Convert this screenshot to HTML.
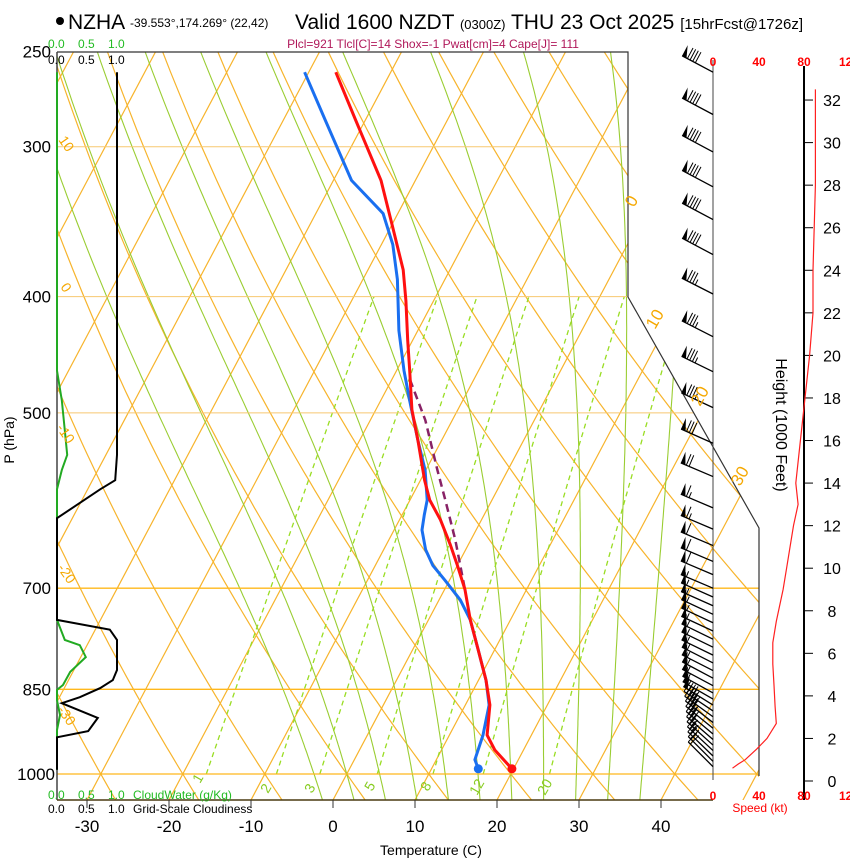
<!DOCTYPE html>
<html><head><meta charset="utf-8"><style>
html,body{margin:0;padding:0;background:#fff;}
svg{display:block;font-family:"Liberation Sans",sans-serif;}
</style></head><body>
<svg id="chart" width="850" height="860" viewBox="0 0 850 860" xmlns="http://www.w3.org/2000/svg">
<defs><clipPath id="plotclip"><polygon points="57,52 628,52 628,297 759,528 759,800 57,800"/></clipPath></defs>
<g id="bg" clip-path="url(#plotclip)"></g>
<g id="fg"></g>
<!-- header -->
<circle cx="60" cy="21" r="4" fill="#000"/>
<text x="68" y="29" font-size="21">NZHA</text>
<text x="130" y="27" font-size="12">-39.553°,174.269° (22,42)</text>
<text x="295" y="29" font-size="21">Valid 1600 NZDT <tspan font-size="13">(0300Z)</tspan> THU 23 Oct 2025 <tspan font-size="15">[15hrFcst@1726z]</tspan></text>
<text x="433" y="48" font-size="12" fill="#b0185a" text-anchor="middle">Plcl=921 Tlcl[C]=14 Shox=-1 Pwat[cm]=4 Cape[J]= 111</text>
<g font-size="12" fill="#22bb22">
<text x="48" y="48">0.0</text><text x="78" y="48">0.5</text><text x="108" y="48">1.0</text></g>
<g font-size="12" fill="#000">
<text x="48" y="64">0.0</text><text x="78" y="64">0.5</text><text x="108" y="64">1.0</text></g>
<g font-size="12" fill="#22bb22">
<text x="48" y="799">0.0</text><text x="78" y="799">0.5</text><text x="108" y="799">1.0</text><text x="133" y="799">CloudWater (g/Kg)</text></g>
<g font-size="12" fill="#000">
<text x="48" y="813">0.0</text><text x="78" y="813">0.5</text><text x="108" y="813">1.0</text><text x="133" y="813">Grid-Scale Cloudiness</text></g>
<text x="431" y="855" font-size="14" text-anchor="middle">Temperature (C)</text>
<text transform="translate(14,440) rotate(-90)" font-size="14" text-anchor="middle">P (hPa)</text>
<text transform="translate(776,425) rotate(90)" font-size="16" text-anchor="middle">Height (1000 Feet)</text>
<text x="760" y="812" font-size="12" fill="#ff0000" text-anchor="middle">Speed (kt)</text>
<g font-size="12" font-weight="bold" fill="#ff0000" text-anchor="middle">
<text x="713" y="66">0</text><text x="759" y="66">40</text><text x="804" y="66">80</text><text x="849" y="66">120</text></g>
<g font-size="12" font-weight="bold" fill="#ff0000" text-anchor="middle">
<text x="713" y="800">0</text><text x="759" y="800">40</text><text x="804" y="800">80</text><text x="849" y="800">120</text></g>
<g font-size="17" fill="#f5a800">
<text transform="translate(634,208) rotate(-60)">0</text>
<text transform="translate(655,330) rotate(-60)">10</text>
<text transform="translate(700,407) rotate(-60)">20</text>
<text transform="translate(740,487) rotate(-60)">30</text></g>
<g font-size="14" fill="#f5a800">
<text transform="translate(58,140) rotate(55)">10</text>
<text transform="translate(60,287) rotate(55)">0</text>
<text transform="translate(56,428) rotate(55)">-10</text>
<text transform="translate(57,568) rotate(55)">-20</text>
<text transform="translate(57,710) rotate(55)">-30</text></g>
<g font-size="14" fill="#88cc22">
<text transform="translate(200,784) rotate(-60)">1</text>
<text transform="translate(268,794) rotate(-60)">2</text>
<text transform="translate(312,794) rotate(-60)">3</text>
<text transform="translate(372,792) rotate(-60)">5</text>
<text transform="translate(428,792) rotate(-60)">8</text>
<text transform="translate(477,796) rotate(-60)">12</text>
<text transform="translate(545,796) rotate(-60)">20</text></g>
</svg>
<script>
// ---- data ----
const tempP = [260,285,320,349,380,403,435,461,497,527,569,591,614,644,670,702,744,788,835,876,928,955,990];
const tempT = [-46.7,-41.2,-34.2,-29.9,-25.7,-23.4,-20.6,-18.4,-15.6,-12.9,-9.5,-7.6,-5.0,-2.2,0.0,2.5,5.1,8.0,10.9,13.0,14.6,16.5,19.8];
const dewP = [260,285,320,341,362,387,427,461,488,527,558,591,608,626,650,670,689,716,744,788,835,876,928,973,990];
const dewT = [-50.5,-44.9,-37.8,-31.8,-28.6,-25.8,-22.3,-19.1,-16.5,-12.9,-10.1,-7.9,-7.3,-6.6,-4.9,-3.0,-0.6,2.6,5.1,8.0,10.9,12.9,14.1,14.7,15.7];
const parcelP = [469,507,558,591,638,702];
const parcelT = [-17.8,-13.3,-8.6,-5.7,-1.9,2.5];
const cwP = [260,461,488,517,542,558,579,744,773,781,799,822,843,851,868,893,919,992];
const cwV = [0,0,0.08,0.13,0.17,0.08,0,0,0.13,0.38,0.48,0.22,0.1,0,0,0.05,0,0];
const ccP = [260,542,569,579,612,744,758,773,819,835,848,863,873,898,921,932,992];
const ccV = [1.0,1.0,0.97,0.72,0,0,0.88,1.0,1.0,0.93,0.72,0.38,0.08,0.68,0.52,0,0];
const spdH = [0.6,0.8,1.0,1.5,2.0,2.7,3.5,4.5,5.5,6.5,7.5,9,10,12,13,14,16,18,20,22,24,26,28,30,32.5];
const spdV = [17,22,28,38,47,55,54,53,52,52,55,61,64,70,74,72,76,80,84,87,87,88,89,89,89];
const barbP = [260,282,303,324,345,369,398,432,462,495,530,565,600,625,645,665,682,700,712,724,736,748,760,772,784,796,808,820,832,844,856,866,876,886,896,906,916,926,936,946,956,966,976,986];
const barbS = [88,88,89,89,88,88,87,86,85,84,78,72,66,64,62,60,58,56,55,55,55,54,54,54,54,54,54,54,54,54,53,52,50,47,44,40,36,32,29,26,24,22,20,18];
const barbD = [298,298,298,298,298,298,297,297,296,295,294,293,293,293,293,293,293,293,294,294,295,295,295,296,296,296,297,297,298,298,299,300,302,304,306,308,309,310,311,312,313,314,315,315];
const pLabels = [250,300,400,500,700,850,1000];
const tTicks = [-30,-20,-10,0,10,20,30,40];
const hTicks = [0,2,4,6,8,10,12,14,16,18,20,22,24,26,28,30,32];
const isoGrayP = [300,400,500];
const isoOrangeP = [700,850,1000];
const mixW = [1,2,3,5,8,12,20];
const thetaW = [-4,0,4,8,12,16,20,24,28,32,36];

// ---- axes ----
const yP = p => 774 - 521*Math.log(1000/p);
const xT = (T,p) => 333 + 8.2*T + 0.53*(800 - yP(p));
const xCloud = v => 57 + 60*v;
const xSpd = s => 713 + 1.15*s;
const yH = h => 781 - 21.28*h;
const NS = 'http://www.w3.org/2000/svg';
const bg = document.getElementById('bg');
const fg = document.getElementById('fg');
function mk(tag, attrs, parent){const e=document.createElementNS(NS,tag);for(const k in attrs)e.setAttribute(k,attrs[k]);parent.appendChild(e);return e;}
function pts(arr){return arr.map(a=>a[0].toFixed(1)+','+a[1].toFixed(1)).join(' ');}

// isotherms
for(let T=-140;T<=50;T+=10){
  const l=mk('line',{x1:xT(T,1060),y1:yP(1060),x2:xT(T,240),y2:yP(240),stroke:'#f7b42c','stroke-width':1.2},bg);
  
  
}
// dry adiabats
for(let th=-40;th<=220;th+=10){
  const a=[];for(let p=1060;p>=240;p-=10){const T=(th+273.15)*Math.pow(p/1000,0.2857)-273.15;a.push([xT(T,p),yP(p)]);}
  const l=mk('polyline',{points:pts(a),fill:'none',stroke:'#f7b42c','stroke-width':1.2},bg);
  
  
}
// moist adiabats
const es=T=>6.112*Math.exp(17.67*T/(T+243.5));
function dTdp(T,p){const Tk=T+273.15;const e=es(T);const rs=0.622*e/(p-e);return (287*Tk+2.5e6*rs)/(p*(1004+2.5e6*2.5e6*rs*0.622/(287*Tk*Tk)));}
thetaW.forEach(tw=>{
  const a=[];let T=tw;
  const down=[];let T2=tw;for(let p=1000;p<=1060;p+=5){down.unshift([xT(T2,p),yP(p)]);T2+=dTdp(T2,p)*5;}
  for(let p=1000;p>=240;p-=5){a.push([xT(T,p),yP(p)]);T-=dTdp(T,p)*5;}
  const l=mk('polyline',{points:pts(down.concat(a)),fill:'none',stroke:'#9acd32','stroke-width':1.1},bg);
  
  
});
// mixing ratio
mixW.forEach(w=>{
  const a=[];for(let p=1000;p>=400;p-=10){const e=w*p/(622+w);const ln=Math.log(e/6.112);const T=243.5*ln/(17.67-ln);a.push([xT(T,p),yP(p)]);}
  const l=mk('polyline',{points:pts(a),fill:'none',stroke:'#99dd22','stroke-width':1.3,'stroke-dasharray':'5,4'},bg);
  
  
});
// isobars
isoGrayP.forEach(p=>{const l=mk('line',{x1:57,y1:yP(p),x2:800,y2:yP(p),stroke:'#f7c870','stroke-width':1},bg);
  
  });
isoOrangeP.forEach(p=>{const l=mk('line',{x1:57,y1:yP(p),x2:800,y2:yP(p),stroke:'#ffb81c','stroke-width':1.3},bg);
  
  });

// frame
const fr=mk('polyline',{points:'57,52 628,52 628,297 759,528 759,776',fill:'none',stroke:'#333','stroke-width':1.2},fg);


const la=mk('line',{x1:57,y1:52,x2:57,y2:800,stroke:'#444','stroke-width':1.5},fg);


const ba=mk('line',{x1:57,y1:800,x2:713,y2:800,stroke:'#4a3a10','stroke-width':1.5},fg);


tTicks.forEach(t=>{
  const x=333+8.2*t;
  const tk=mk('line',{x1:x,y1:800,x2:x,y2:808,stroke:'#333','stroke-width':1},fg);
  
  
  const tx=mk('text',{x:x,y:832,'font-size':17,'text-anchor':'middle'},fg);tx.textContent=t;
  
  
});
pLabels.forEach(p=>{
  const tx=mk('text',{x:p===1000?55:51,y:yP(p)+6,'font-size':17,'text-anchor':'end'},fg);tx.textContent=p;
  
  
});
// wind speed 0 line & height axis
const zl=mk('line',{x1:713,y1:60,x2:713,y2:780,stroke:'#444','stroke-width':1},fg);


const ha=mk('line',{x1:804,y1:66,x2:804,y2:800,stroke:'#000','stroke-width':2},fg);


hTicks.forEach(h=>{
  const tk=mk('line',{x1:804,y1:yH(h),x2:813,y2:yH(h),stroke:'#000','stroke-width':1},fg);
  
  
  const tx=mk('text',{x:832,y:yH(h)+6,'font-size':16,'text-anchor':'middle'},fg);tx.textContent=h;
  
  
});
// speed profile
const sp=mk('polyline',{points:pts(spdH.map((h,i)=>[xSpd(spdV[i]),yH(h)])),fill:'none',stroke:'#ff2020','stroke-width':1.2},fg);



// cloud panel
const cw=mk('polyline',{points:pts(cwP.map((p,i)=>[xCloud(cwV[i]),yP(p)])),fill:'none',stroke:'#22aa22','stroke-width':2},fg);


const cc=mk('polyline',{points:pts(ccP.map((p,i)=>[xCloud(ccV[i]),yP(p)])),fill:'none',stroke:'#000','stroke-width':2},fg);



// profiles
const pc=mk('polyline',{points:pts(parcelP.map((p,i)=>[xT(parcelT[i],p),yP(p)])),fill:'none',stroke:'#882266','stroke-width':2.5,'stroke-dasharray':'8,5'},fg);


const dw=mk('polyline',{points:pts(dewP.map((p,i)=>[xT(dewT[i],p),yP(p)])),fill:'none',stroke:'#1a6ff0','stroke-width':3,'stroke-linejoin':'round'},fg);


const tl=mk('polyline',{points:pts(tempP.map((p,i)=>[xT(tempT[i],p),yP(p)])),fill:'none',stroke:'#ff1010','stroke-width':3,'stroke-linejoin':'round'},fg);


const n=tempP.length-1, m=dewP.length-1;
const td=mk('circle',{cx:xT(tempT[n],tempP[n]),cy:yP(tempP[n]),r:4.5,fill:'#ff1010'},fg);


const dd=mk('circle',{cx:xT(dewT[m],dewP[m]),cy:yP(dewP[m]),r:4.5,fill:'#1a6ff0'},fg);



// wind barbs
barbP.forEach((p,i)=>{
  const g=mk('g',{},fg);
  
  
  const d=barbD[i]*Math.PI/180, ux=Math.sin(d), uy=-Math.cos(d);
  const bx=713, by=yP(p), L=35;
  const tx=bx+L*ux, ty=by+L*uy;
  mk('line',{x1:bx,y1:by,x2:tx,y2:ty,stroke:'#000','stroke-width':1.3},g);
  const px=-uy, py=ux, F=12;
  let s=Math.round(barbS[i]/5)*5, pos=0;
  while(s>=50){
    const ax=tx-ux*pos, ay=ty-uy*pos, cx=tx-ux*(pos+5), cy=ty-uy*(pos+5);
    mk('polygon',{points:pts([[ax,ay],[cx,cy],[ax+px*F,ay+py*F]]),fill:'#000'},g);
    pos+=6; s-=50;
  }
  while(s>=10){const ax=tx-ux*pos, ay=ty-uy*pos;mk('line',{x1:ax,y1:ay,x2:ax+px*F,y2:ay+py*F,stroke:'#000','stroke-width':1},g);pos+=3;s-=10;}
  if(s>=5){const ax=tx-ux*pos, ay=ty-uy*pos;mk('line',{x1:ax,y1:ay,x2:ax+px*F/2,y2:ay+py*F/2,stroke:'#000','stroke-width':1},g);}
});
</script>
</body></html>
